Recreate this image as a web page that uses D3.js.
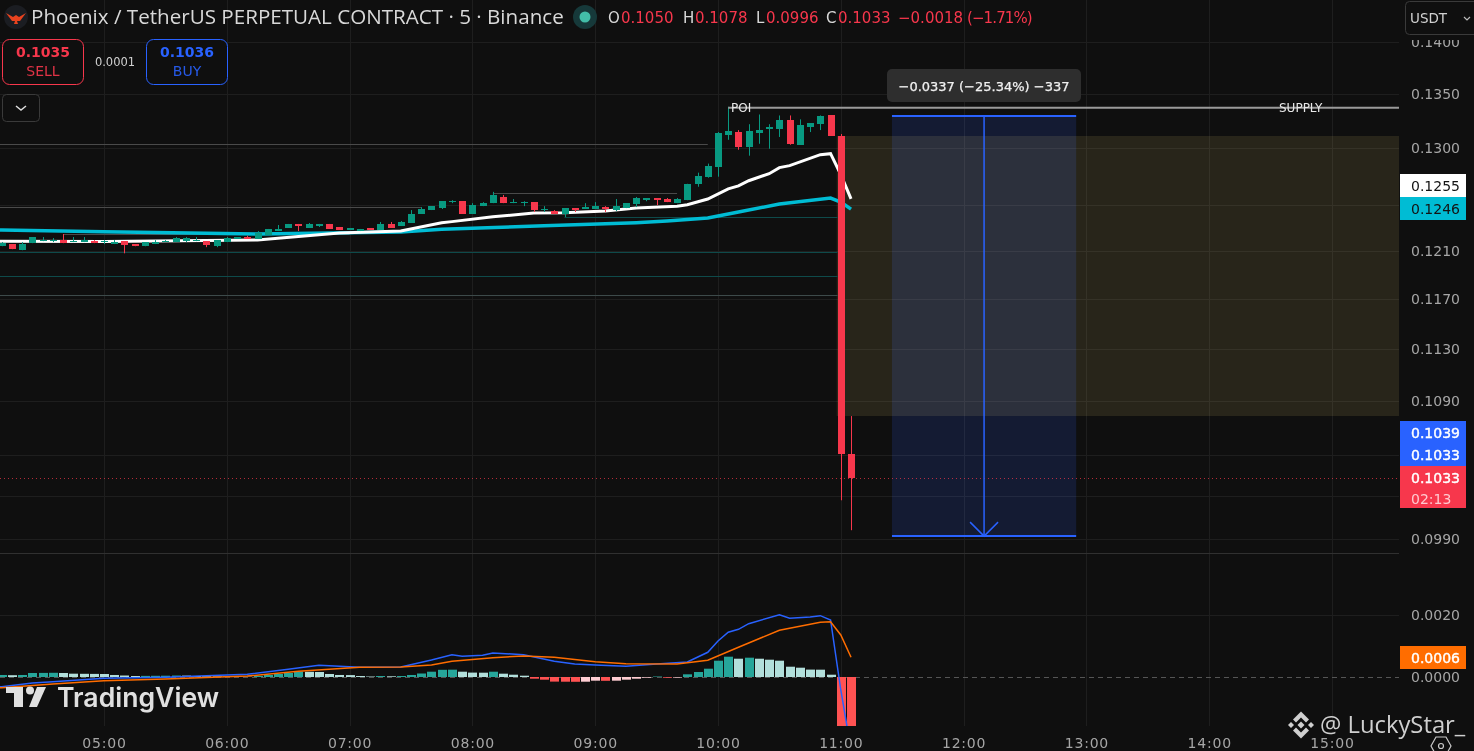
<!DOCTYPE html>
<html>
<head>
<meta charset="utf-8">
<title>Phoenix / TetherUS</title>
<script src="https://cdn.jsdelivr.net/npm/d3@7"></script>
<style>
    html, body { margin: 0; padding: 0; background: #0f0f0f; overflow: hidden; }
    svg { display: block; font-family: "DejaVu Sans", sans-serif; }
</style>
</head>
<body>
<div id="chart"></div>
<script>
// candles start at 04:10, one every 5 minutes
const firstCandle = "04:10";
const opens = [.12142,.12160,.12108,.12168,.12185,.12185,.12194,.12177,.12177,.12185,.12177,.12160,.12185,.12160,.12142,.12160,.12177,.12177,.12185,.12185,.12185,.12142,.12177,.12203,.12220,.12203,.12237,.12271,.12297,.12332,.12297,.12314,.12332,.12306,.12280,.12271,.12297,.12280,.12332,.12314,.12340,.12418,.12452,.12469,.12521,.12529,.12418,.12486,.12512,.12566,.12512,.12512,.12521,.12452,.12443,.12418,.12469,.12461,.12461,.12478,.12452,.12469,.12504,.12538,.12557,.12548,.12512,.12538,.12682,.12745,.12835,.13121,.13148,.13014,.13139,.13175,.13175,.13256,.13032,.13193,.13220,.13301,.13112,.10504];
const highs = [.12177,.12160,.12177,.12220,.12220,.12211,.12246,.12220,.12220,.12194,.12194,.12194,.12185,.12160,.12177,.12194,.12194,.12220,.12220,.12220,.12185,.12194,.12220,.12220,.12231,.12271,.12289,.12323,.12332,.12332,.12340,.12332,.12332,.12306,.12297,.12289,.12297,.12349,.12349,.12357,.12452,.12478,.12486,.12529,.12538,.12529,.12512,.12521,.12611,.12584,.12548,.12529,.12521,.12486,.12452,.12469,.12469,.12512,.12521,.12486,.12548,.12512,.12566,.12557,.12557,.12557,.12557,.12682,.12781,.12862,.13148,.13382,.13166,.13220,.13310,.13220,.13301,.13301,.13265,.13229,.13301,.13301,.13130,.10786];
const lows = [.12142,.12117,.12108,.12168,.12185,.12177,.12168,.12177,.12177,.12168,.12160,.12160,.12082,.12142,.12142,.12160,.12177,.12177,.12177,.12185,.12134,.12134,.12177,.12203,.12203,.12203,.12237,.12271,.12297,.12271,.12297,.12306,.12289,.12280,.12280,.12271,.12280,.12280,.12297,.12314,.12340,.12418,.12452,.12461,.12512,.12418,.12418,.12486,.12512,.12512,.12512,.12486,.12435,.12435,.12418,.12392,.12435,.12461,.12461,.12435,.12443,.12469,.12478,.12529,.12495,.12521,.12512,.12538,.12656,.12736,.12745,.13077,.12987,.12933,.13041,.12996,.13103,.13032,.13032,.13148,.13166,.13112,.10171,.09961];
const closes = [.12168,.12117,.12160,.12220,.12194,.12194,.12168,.12185,.12194,.12168,.12185,.12177,.12151,.12142,.12177,.12177,.12185,.12211,.12211,.12194,.12151,.12194,.12211,.12220,.12203,.12254,.12289,.12289,.12332,.12314,.12332,.12332,.12289,.12280,.12297,.12289,.12280,.12332,.12297,.12349,.12418,.12461,.12486,.12529,.12529,.12418,.12495,.12512,.12584,.12512,.12521,.12521,.12452,.12461,.12418,.12469,.12452,.12478,.12486,.12461,.12486,.12512,.12557,.12557,.12538,.12521,.12548,.12682,.12754,.12844,.13139,.13157,.13014,.13157,.13166,.13193,.13256,.13032,.13211,.13229,.13292,.13112,.10504,.10330];

// moving averages, picked at [candle index]
const whiteIdx = [-1,0,10,25,33,39,43,44,48,52,55,59,62,66,67,69,71,72,73,75,76,77,80,81,82,83];
const whiteMa = [.12185,.12185,.12181,.12194,.12254,.12271,.12343,.12352,.12394,.12426,.12429,.12443,.12469,.12486,.12499,.12548,.12638,.12664,.12709,.12772,.12826,.12844,.12942,.12951,.12763,.12550];
const cyanIdx = [-1,0,10,20,25,32,39,43,53,62,65,69,72,76,81,82,83];
const cyanMa = [.12282,.12280,.12265,.12252,.12246,.12254,.12263,.12286,.12317,.12343,.12357,.12383,.12435,.12504,.12557,.12521,.12460];

// macd pane
const histValues = [.000065,.000058,.000065,.000129,.000132,.000136,.000129,.000107,.000103,.000100,.000097,.000065,.000048,.000032,.000036,.000039,.000042,.000048,.000045,.000032,.000023,.000019,.000016,.000013,.000010,.000032,.000065,.000097,.000129,.000178,.000168,.000161,.000097,.000065,.000061,.000032,.000016,.000032,.000023,.000032,.000065,.000113,.000171,.000232,.000236,.000171,.000142,.000139,.000171,.000107,.000074,.000042,-.000055,-.000087,-.000149,-.000152,-.000155,-.000152,-.000119,-.000123,-.000119,-.000087,-.000055,-.000023,.000016,-.000023,-.000019,.000087,.000161,.000268,.000526,.000655,.000590,.000623,.000590,.000558,.000526,.000332,.000300,.000239,.000236,.000074,-.0019,-.0020];
const macdIdx = [-1,0,3,5,10,16,24,28,31,35,39,42,44,45,47,48,51,54,56,58,61,64,67,69,70,71,72,73,76,77,79,80,81,82,83];
const macdLine = [-.000323,-.000313,-.000194,-.000152,-.000042,-.00001,.000087,.000248,.000377,.000313,.000323,.000548,.000719,.000668,.000700,.000774,.000719,.000506,.000419,.000387,.000345,.000419,.000484,.000797,.001161,.001442,.001539,.001719,.002010,.001894,.001936,.001978,.001839,-.000419,-.002355];
const signalIdx = [-1,0,5,10,16,24,29,35,39,42,44,48,51,54,58,61,66,69,72,76,78,80,81,82,83];
const signalLine = [-.000355,-.000345,-.000226,-.000119,-.000065,.000032,.000184,.000313,.000323,.000387,.000506,.000623,.000677,.000636,.000494,.000429,.000419,.000539,.000958,.001507,.001636,.001765,.001784,.001355,.000636];

// axes
const hourTicks = ["05:00","06:00","07:00","08:00","09:00","10:00","11:00","12:00","13:00","14:00","15:00"];
const priceTicks = [.14,.135,.13,.125,.121,.117,.113,.109,.105,.102,.099];
const priceLabels = [.14,.135,.13,.121,.117,.113,.109,.099];
const macdTicks = [.002,0];

// drawn levels: [price, from candle, to candle]
const levelPrices = [.13041,.12477,.12598,.12246];
const levelFrom = [-1,-1,48,6];
const levelTo = [69,41,66,34];
const tealPrices = [.12389,.12093,.11890,.11732];
const tealFrom = [55,-1,-1,-1];
const tealTo = [81,81,81,81];

const supplyPrice = .13382;
const zoneTop = .13112, zoneBottom = .10786, zoneStart = "10:58";
const entryPrice = .13296, targetPrice = .09920, toolStart = "11:25", toolEnd = "12:55";
const lastPrice = .1033;

const width = 1474, height = 751;
const paneRight = 1399, priceBottom = 553, macdBottom = 726;
const bg = "#0f0f0f", gridCol = "#1e1e1e", axisText = "#a6a6a6";
const upCol = "#089981", downCol = "#f7374c", blue = "#2962ff";

const toDate = s => new Date(`2024-01-01T${s}:00Z`);
const candleDate = i => new Date(toDate(firstCandle).getTime() + i * 300000);

const x = d3.scaleUtc().domain([toDate("05:00"), toDate("15:00")]).range([104, 1332]);
const xi = i => x(candleDate(i));
const y = d3.scaleLog().domain([.14, .099]).range([42, 539]);
const yM = d3.scaleLinear().domain([0, .002]).range([677, 615]);

const svg = d3.select("#chart").append("svg").attr("width", width).attr("height", height);
svg.append("rect").attr("width", width).attr("height", height).attr("fill", bg);

const defs = svg.append("defs");
defs.append("clipPath").attr("id", "pricePane").append("rect").attr("width", paneRight).attr("height", priceBottom);
defs.append("clipPath").attr("id", "macdPane").append("rect").attr("y", priceBottom).attr("width", paneRight).attr("height", macdBottom - priceBottom);

const crisp = v => Math.round(v) + 0.5;

// grid
svg.append("g").selectAll("line").data(hourTicks).join("line")
    .attr("x1", d => crisp(x(toDate(d)))).attr("x2", d => crisp(x(toDate(d))))
    .attr("y1", 0).attr("y2", macdBottom)
    .attr("stroke", gridCol);
svg.append("g").selectAll("line").data(priceTicks).join("line")
    .attr("x1", 0).attr("x2", paneRight)
    .attr("y1", d => crisp(y(d))).attr("y2", d => crisp(y(d)))
    .attr("stroke", gridCol);
svg.append("line").attr("x1", 0).attr("x2", paneRight)
    .attr("y1", crisp(yM(.002))).attr("y2", crisp(yM(.002))).attr("stroke", gridCol);

// supply zone + short position tool
svg.append("rect")
    .attr("x", x(toDate(zoneStart))).attr("width", paneRight - x(toDate(zoneStart)))
    .attr("y", y(zoneTop)).attr("height", y(zoneBottom) - y(zoneTop))
    .attr("fill", "rgba(242,215,115,.11)");

const toolX0 = x(toDate(toolStart)), toolX1 = x(toDate(toolEnd));
const toolMid = (toolX0 + toolX1) / 2;
svg.append("rect")
    .attr("x", toolX0).attr("width", toolX1 - toolX0)
    .attr("y", y(entryPrice)).attr("height", y(targetPrice) - y(entryPrice))
    .attr("fill", "rgb(5,13,38)")
    .style("mix-blend-mode", "screen");

const pricePane = svg.append("g").attr("clip-path", "url(#pricePane)");

// level lines
pricePane.append("g").selectAll("line").data(levelPrices).join("line")
    .attr("x1", (d, i) => levelFrom[i] < 0 ? 0 : xi(levelFrom[i]))
    .attr("x2", (d, i) => xi(levelTo[i]))
    .attr("y1", d => crisp(y(d))).attr("y2", d => crisp(y(d)))
    .attr("stroke", "#4a4a4a");
pricePane.append("g").selectAll("line").data(tealPrices).join("line")
    .attr("x1", (d, i) => tealFrom[i] < 0 ? 0 : xi(tealFrom[i]))
    .attr("x2", (d, i) => xi(tealTo[i]) + 7)
    .attr("y1", d => crisp(y(d))).attr("y2", d => crisp(y(d)))
    .attr("stroke", (d, i) => i == 3 ? "#3d4a4a" : "#0e4a4a");

// last price line
pricePane.append("line").attr("x1", 0).attr("x2", paneRight)
    .attr("y1", crisp(y(lastPrice))).attr("y2", crisp(y(lastPrice)))
    .attr("stroke", downCol).attr("stroke-dasharray", "1 3").attr("opacity", .7);

// moving averages under the candles
const maLine = d3.line().x(d => xi(d[0])).y(d => y(d[1]));
pricePane.append("path").datum(d3.zip(cyanIdx, cyanMa))
    .attr("fill", "none").attr("stroke", "#00bcd4").attr("stroke-width", 3.5).attr("d", maLine);
pricePane.append("path").datum(d3.zip(whiteIdx, whiteMa))
    .attr("fill", "none").attr("stroke", "#ffffff").attr("stroke-width", 3).attr("d", maLine);

// candles
const candles = pricePane.append("g");
opens.forEach((o, i) => {
    const col = closes[i] >= o ? upCol : downCol;
    const cx = Math.round(xi(i));
    candles.append("line")
        .attr("x1", cx + .5).attr("x2", cx + .5)
        .attr("y1", y(highs[i])).attr("y2", y(lows[i]))
        .attr("stroke", col);
    const top = Math.min(y(o), y(closes[i])), bot = Math.max(y(o), y(closes[i]));
    candles.append("rect")
        .attr("x", cx - 3).attr("width", 7)
        .attr("y", Math.round(top)).attr("height", Math.max(1, Math.round(bot - top)))
        .attr("fill", col);
});

// supply line
pricePane.append("line").attr("x1", xi(71)).attr("x2", paneRight)
    .attr("y1", y(supplyPrice) + 1).attr("y2", y(supplyPrice) + 1)
    .attr("stroke", "#9a9a9a").attr("stroke-width", 2);
pricePane.append("text").attr("x", 731).attr("y", y(supplyPrice) + 5.5)
    .attr("fill", "#e8e8e8").attr("font-size", 12).text("POI");
pricePane.append("text").attr("x", 1279).attr("y", y(supplyPrice) + 5.5)
    .attr("fill", "#e8e8e8").attr("font-size", 12).text("SUPPLY");

// short tool lines and arrow
const tool = pricePane.append("g").attr("stroke", blue).attr("fill", "none");
tool.append("line").attr("x1", toolX0).attr("x2", toolX1)
    .attr("y1", y(entryPrice)).attr("y2", y(entryPrice)).attr("stroke-width", 2);
tool.append("line").attr("x1", toolX0).attr("x2", toolX1)
    .attr("y1", y(targetPrice)).attr("y2", y(targetPrice)).attr("stroke-width", 2);
tool.append("line").attr("x1", toolMid).attr("x2", toolMid)
    .attr("y1", y(entryPrice)).attr("y2", y(targetPrice)).attr("stroke-width", 1.5);
tool.append("path").attr("stroke-width", 1.5)
    .attr("d", `M${toolMid - 14},${y(targetPrice) - 14}L${toolMid},${y(targetPrice)}L${toolMid + 14},${y(targetPrice) - 14}`);

svg.append("rect").attr("x", 887).attr("y", 69).attr("width", 194).attr("height", 33)
    .attr("rx", 5).attr("fill", "#2e2e2e");
svg.append("text").attr("x", 984).attr("y", 91).attr("text-anchor", "middle")
    .attr("fill", "#f0f0f0").attr("font-size", 13).attr("stroke", "#f0f0f0").attr("stroke-width", .25)
    .text("\u22120.0337 (\u221225.34%) \u2212337");

// pane separator
svg.append("line").attr("x1", 0).attr("x2", paneRight)
    .attr("y1", priceBottom + .5).attr("y2", priceBottom + .5).attr("stroke", "#303030");
svg.append("line").attr("x1", 0).attr("x2", paneRight)
    .attr("y1", yM(0) + .5).attr("y2", yM(0) + .5)
    .attr("stroke", "#555").attr("stroke-dasharray", "5 4");

// macd
const macdPane = svg.append("g").attr("clip-path", "url(#macdPane)");
const histCol = (v, i) => {
    const prev = i > 0 ? histValues[i - 1] : -1;
    if (v >= 0) return v >= prev ? "#26a69a" : "#b2dfdb";
    return v < prev ? "#ff5252" : "#ffcdd2";
};
macdPane.append("g").selectAll("rect").data(histValues).join("rect")
    .attr("x", (d, i) => Math.round(xi(i)) - 4).attr("width", 9)
    .attr("y", d => d >= 0 ? yM(d) : yM(0))
    .attr("height", d => Math.abs(yM(d) - yM(0)))
    .attr("fill", histCol);
const mLine = d3.line().x(d => xi(d[0])).y(d => yM(d[1]));
macdPane.append("path").datum(d3.zip(macdIdx, macdLine))
    .attr("fill", "none").attr("stroke", blue).attr("stroke-width", 1.5).attr("d", mLine);
macdPane.append("path").datum(d3.zip(signalIdx, signalLine))
    .attr("fill", "none").attr("stroke", "#ff6d00").attr("stroke-width", 1.5).attr("d", mLine);

// axes
const xAxis = svg.append("g").attr("transform", "translate(0,741)")
    .call(d3.axisBottom(x).tickValues(hourTicks.map(toDate)).tickFormat(d3.utcFormat("%H:%M")).tickSize(0).tickPadding(0));
xAxis.select(".domain").remove();
xAxis.selectAll("text").attr("fill", axisText).attr("font-size", 14).attr("dy", ".5em")
    .attr("font-family", '"DejaVu Sans", sans-serif').attr("letter-spacing", ".8");

const yAxis = svg.append("g").attr("transform", "translate(1411,0)")
    .call(d3.axisRight(y).tickValues(priceLabels).tickFormat(d3.format(".4f")).tickSize(0).tickPadding(0));
yAxis.select(".domain").remove();
yAxis.selectAll("text").attr("fill", axisText).attr("font-size", 14)
    .attr("font-family", '"DejaVu Sans", sans-serif');

const yAxisM = svg.append("g").attr("transform", "translate(1411,0)")
    .call(d3.axisRight(yM).tickValues(macdTicks).tickFormat(d3.format(".4f")).tickSize(0).tickPadding(0));
yAxisM.select(".domain").remove();
yAxisM.selectAll("text").attr("fill", axisText).attr("font-size", 14)
    .attr("font-family", '"DejaVu Sans", sans-serif');

// top of the axis is hidden under the currency button
svg.append("rect").attr("x", 1400).attr("width", 74).attr("height", 40).attr("fill", bg);
svg.append("rect").attr("x", 1405.5).attr("y", 1.5).attr("width", 80).attr("height", 33)
    .attr("rx", 4).attr("fill", bg).attr("stroke", "#3a3a3a");
svg.append("text").attr("x", 1410).attr("y", 23).attr("fill", "#d0d0d0").attr("font-size", 13.5).text("USDT");
svg.append("path").attr("d", "M1464,17l3,3l3,-3").attr("fill", "none").attr("stroke", "#bbb").attr("stroke-width", 1.2);

// price tags
const tags = [
    { label: "0.1255", top: 174, h: 23, fill: "#ffffff", col: "#131313", heavy: 0 },
    { label: "0.1246", top: 197, h: 23, fill: "#00bcd4", col: "#131313", heavy: 0 },
    { label: "0.1039", top: 421, h: 23, fill: "#2962ff", col: "#ffffff", heavy: .4 },
    { label: "0.1033", top: 444, h: 22, fill: "#2962ff", col: "#ffffff", heavy: .4 },
    { label: "0.1033", top: 466, h: 23, fill: downCol, col: "#ffffff", heavy: .4 },
    { label: "02:13", top: 489, h: 19, fill: downCol, col: "#ffc9cf", heavy: 0 },
    { label: "0.0006", top: 646, h: 23, fill: "#ff6d00", col: "#ffffff", heavy: .4 }
];
svg.append("g").selectAll("rect").data(tags).join("rect")
    .attr("x", 1400).attr("width", 66).attr("y", d => d.top).attr("height", d => d.h).attr("fill", d => d.fill);
svg.append("g").selectAll("text").data(tags).join("text")
    .attr("x", 1411).attr("y", d => d.top + d.h / 2 + 5).attr("fill", d => d.col)
    .attr("stroke", d => d.col).attr("stroke-width", d => d.heavy)
    .attr("font-size", 14).text(d => d.label);

// header
const logo = svg.append("g");
logo.append("circle").attr("cx", 16).attr("cy", 17).attr("r", 12).attr("fill", "#1b1d22");
logo.append("path").attr("d", "M6,13L13,17L16,15L19,17L26,13L20,21L17,21L18,24H14L15,21L12,21Z").attr("fill", "#e8431f");

svg.append("text").attr("x", 31).attr("y", 24).attr("fill", "#d9d9d9").attr("font-size", 20.6)
    .attr("font-family", '"Open Sans", sans-serif')
    .text("Phoenix / TetherUS PERPETUAL CONTRACT \u00b7 5 \u00b7 Binance");

svg.append("circle").attr("cx", 585).attr("cy", 17).attr("r", 12).attr("fill", "#16393a");
svg.append("circle").attr("cx", 585).attr("cy", 17).attr("r", 5.5).attr("fill", "#42bda8");

const ohlc = [
    ["O", 608, "#d9d9d9"], ["0.1050", 621, downCol],
    ["H", 683, "#d9d9d9"], ["0.1078", 695, downCol],
    ["L", 756, "#d9d9d9"], ["0.0996", 766, downCol],
    ["C", 826, "#d9d9d9"], ["0.1033", 838, downCol],
    ["\u22120.0018", 898, downCol], ["(\u22121.71%)", 967, downCol]
];
svg.append("g").selectAll("text").data(ohlc).join("text")
    .attr("x", d => d[1]).attr("y", 23).attr("fill", d => d[2])
    .attr("font-size", 15)
    .attr("letter-spacing", d => d[0].startsWith("(") ? -.9 : null)
    .text(d => d[0]);

// sell / buy
const orderBtns = [
    { x0: 2, price: "0.1035", label: "SELL", col: "#f7374c" },
    { x0: 146, price: "0.1036", label: "BUY", col: "#2962ff" }
];
orderBtns.forEach(b => {
    svg.append("rect").attr("x", b.x0 + .5).attr("y", 39.5).attr("width", 81).attr("height", 45)
        .attr("rx", 7).attr("fill", bg).attr("stroke", b.col);
    svg.append("text").attr("x", b.x0 + 41).attr("y", 57).attr("text-anchor", "middle")
        .attr("fill", b.col).attr("font-size", 14).attr("font-weight", "bold").text(b.price);
    svg.append("text").attr("x", b.x0 + 41).attr("y", 76).attr("text-anchor", "middle")
        .attr("fill", b.col).attr("font-size", 14).attr("opacity", .9).text(b.label);
});
svg.append("text").attr("x", 115).attr("y", 66).attr("text-anchor", "middle")
    .attr("fill", "#d0d0d0").attr("font-size", 11.5).text("0.0001");
svg.append("rect").attr("x", 2.5).attr("y", 94.5).attr("width", 37).attr("height", 27)
    .attr("rx", 4).attr("fill", bg).attr("stroke", "#3a3a3a");
svg.append("path").attr("d", "M16,106l5,4l5,-4").attr("fill", "none").attr("stroke", "#ddd").attr("stroke-width", 1.5);

// tradingview mark
const tv = svg.append("g").attr("fill", "#e0e0e0");
tv.append("path").attr("d", "M6,687H23V707H14V693H6Z");
tv.append("circle").attr("cx", 30).attr("cy", 690.5).attr("r", 4);
tv.append("path").attr("d", "M37,687H46L37,707H29Z");
tv.append("text").attr("x", 57).attr("y", 707).attr("font-size", 26.6).attr("font-weight", 600)
    .attr("font-family", "Inter, sans-serif").text("TradingView");

// watermark
const wm = svg.append("g").attr("fill", "#cfcfcf");
wm.append("path").attr("d", "M1301,711.5L1309,719.5L1306,722.5L1301,717.5L1296,722.5L1293,719.5Z");
wm.append("path").attr("d", "M1301,738.5L1309,730.5L1306,727.5L1301,732.5L1296,727.5L1293,730.5Z");
[[1291, 725, 3], [1311, 725, 3], [1301, 725, 3.5]].forEach(d => {
    wm.append("path").attr("d", `M${d[0]},${d[1] - d[2]}L${d[0] + d[2]},${d[1]}L${d[0]},${d[1] + d[2]}L${d[0] - d[2]},${d[1]}Z`);
});
wm.append("text").attr("x", 1320).attr("y", 733).attr("font-size", 23.8)
    .attr("font-family", '"Open Sans", sans-serif').text("@ LuckyStar_");

// settings icon, cut by the window edge
svg.append("path").attr("d", "M1436,737H1446L1451,746L1446,755H1436L1431,746Z")
    .attr("fill", "none").attr("stroke", "#c8c8c8").attr("stroke-width", 1.2);
svg.append("circle").attr("cx", 1441).attr("cy", 746).attr("r", 2.5)
    .attr("fill", "none").attr("stroke", "#c8c8c8").attr("stroke-width", 1.2);
</script>
</body>
</html>
